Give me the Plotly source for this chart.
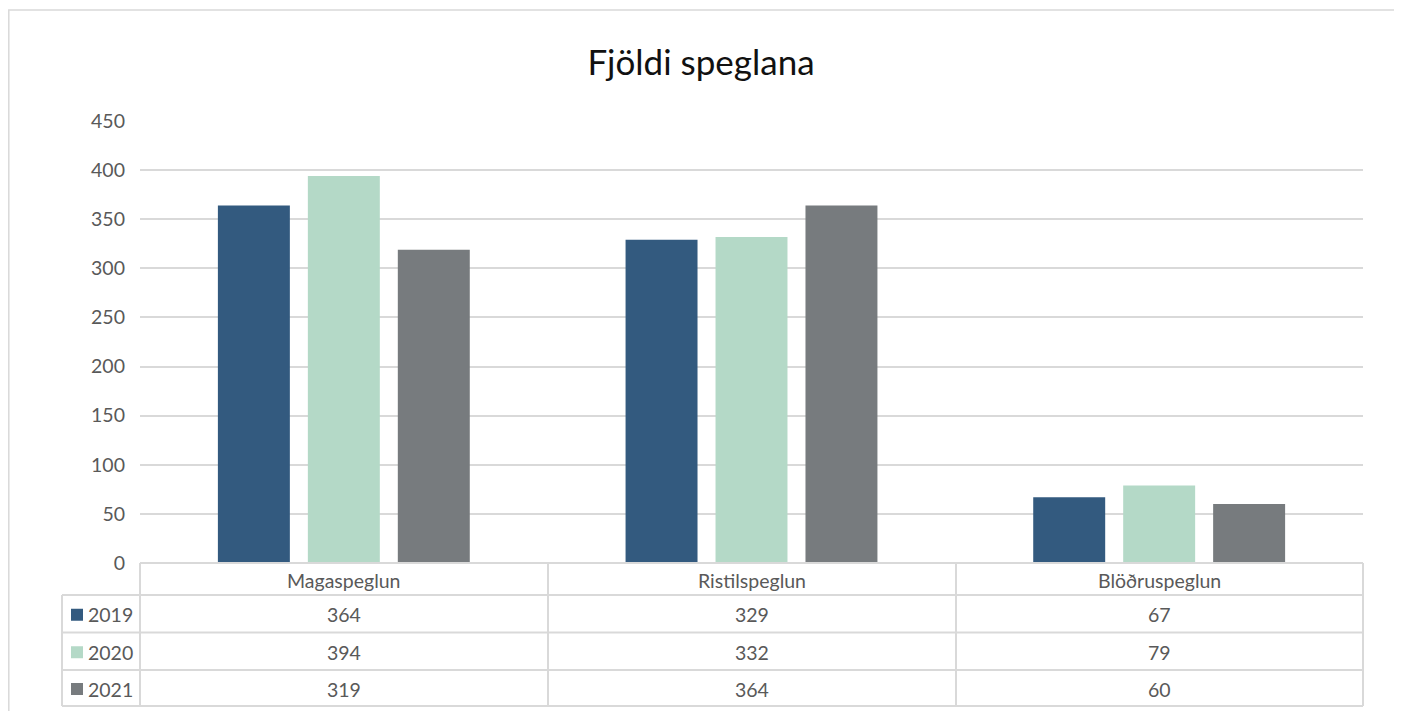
import plotly.graph_objects as go

categories = ["Magaspeglun", "Ristilspeglun", "Blöðruspeglun"]
years = ["2019", "2020", "2021"]
values = {
    "2019": [364, 329, 67],
    "2020": [394, 332, 79],
    "2021": [319, 364, 60],
}
colors = {"2019": "#335a7f", "2020": "#b4d9c7", "2021": "#777b7e"}
y_ticks = [0, 50, 100, 150, 200, 250, 300, 350, 400, 450]
title = "Fjöldi speglana"

# page has an 8px body margin; work in page pixels and convert
OFF = 8
W, H = 1402 - OFF, 711 - OFF
L, R, T, B = 140, 1363, 121, 563  # page px of the plot area
FONT = "Lato"
TXT = "#595959"
GRID = "#d9d9d9"
FS = 19.5

def px(x):
    return (x - L) / (R - L)

def py(y):
    return (B - y) / (B - T)

fig = go.Figure()
for yr in years:
    fig.add_trace(go.Bar(
        x=categories, y=values[yr], name=yr,
        marker=dict(color=colors[yr], line=dict(width=0)),
    ))

fig.update_layout(
    width=W, height=H,
    margin=dict(l=L - OFF, r=1402 - R, t=T - OFF, b=711 - B),
    paper_bgcolor="white", plot_bgcolor="white",
    barmode="group", bargap=0.338, bargroupgap=0.2,
    showlegend=False,
    font=dict(family=FONT, color=TXT, size=FS),
    title=dict(text=title, x=(701 - OFF) / W, xref="container", xanchor="center",
               y=1 - (63 - OFF) / H, yref="container", yanchor="middle",
               font=dict(family=FONT, size=35, color="#111111")),
)
fig.update_xaxes(showticklabels=False, showgrid=False, zeroline=False, showline=False,
                 range=[-0.5, 2.5])
fig.update_yaxes(range=[0, 450], tickvals=y_ticks, showgrid=True, gridcolor=GRID, gridwidth=1.5,
                 zeroline=False, showline=False, ticks="", ticklabelstandoff=14,
                 tickfont=dict(size=FS, color=TXT, family=FONT))

shapes = []
line = dict(color=GRID, width=2)
# outer border
shapes.append(dict(type="rect", xref="paper", yref="paper", x0=px(OFF + 0.8), x1=px(1398), y0=py(725), y1=py(10),
                   line=dict(color=GRID, width=1.5), fillcolor="rgba(0,0,0,0)", layer="below"))
# table rows
row_edges = [563, 595, 632.5, 670, 706]
col_edges = [140, 548, 956, 1363]
for i, ye in enumerate(row_edges):
    x0 = 140 if i == 0 else 62
    shapes.append(dict(type="line", xref="paper", yref="paper", x0=px(x0), x1=px(1363), y0=py(ye), y1=py(ye), line=line))
for xe in col_edges:
    shapes.append(dict(type="line", xref="paper", yref="paper", x0=px(xe), x1=px(xe), y0=py(563), y1=py(706), line=line))
shapes.append(dict(type="line", xref="paper", yref="paper", x0=px(62), x1=px(62), y0=py(595), y1=py(706), line=line))

annotations = []
# header
for c in categories:
    annotations.append(dict(x=c, xref="x", y=py(580), yref="paper", text=c, showarrow=False,
                            xanchor="center", yanchor="middle", font=dict(size=FS, color=TXT, family=FONT)))
for r, yr in enumerate(years):
    top, bot = row_edges[r + 1], row_edges[r + 2]
    ym = (top + bot) / 2 + 1
    yc = py(ym)
    for c, v in zip(categories, values[yr]):
        annotations.append(dict(x=c, xref="x", y=yc, yref="paper", text=str(v), showarrow=False,
                                xanchor="center", yanchor="middle", font=dict(size=FS, color=TXT, family=FONT)))
    annotations.append(dict(x=px(86), xref="paper", y=yc, yref="paper", text=yr, showarrow=False,
                            xanchor="left", yanchor="middle", font=dict(size=FS, color=TXT, family=FONT)))
    shapes.append(dict(type="rect", xref="paper", yref="paper", x0=px(71), x1=px(83), y0=py(ym + 6), y1=py(ym - 6),
                       fillcolor=colors[yr], line=dict(width=0)))

fig.update_layout(shapes=shapes, annotations=annotations)
fig.write_html("out.html")
